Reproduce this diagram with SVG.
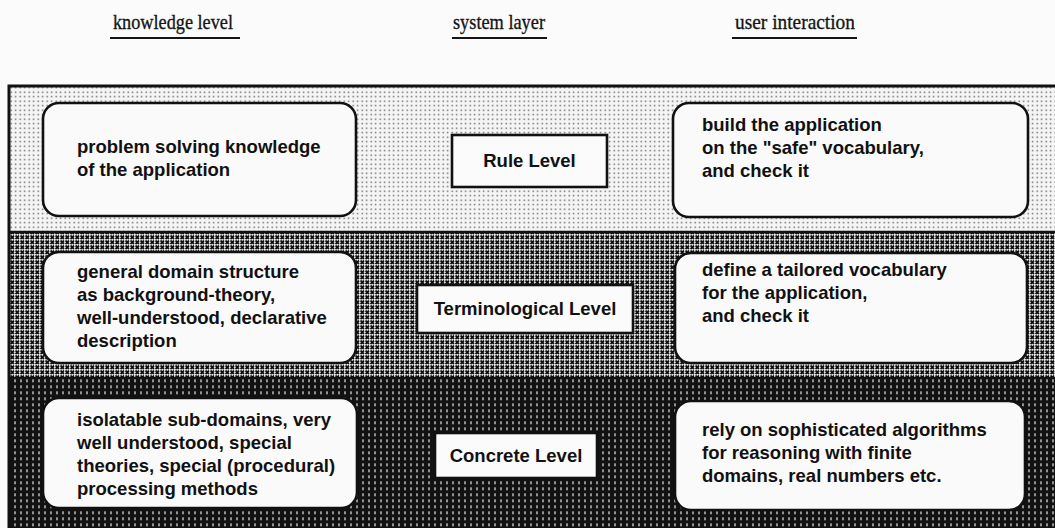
<svg xmlns="http://www.w3.org/2000/svg" width="1055" height="528" viewBox="0 0 1055 528">
  <defs>
    <!-- light dot screen for the rule band -->
    <pattern id="dots" width="4.5" height="4.5" patternUnits="userSpaceOnUse">
      <rect width="4.5" height="4.5" fill="#f5f5f5"/>
      <rect x="1.5" y="1.5" width="1.4" height="1.4" fill="#5a5a5a"/>
    </pattern>
    <!-- cross screen for the terminological band -->
    <pattern id="cross" width="5" height="5" patternUnits="userSpaceOnUse">
      <rect width="5" height="5" fill="#efefef"/>
      <path d="M0.5,0.5 L4,4 M4,0.5 L0.5,4" stroke="#0e0e0e" stroke-width="1.8"/>
    </pattern>
    <!-- dark stripe screen for the concrete band -->
    <pattern id="stripes" width="6" height="6" patternUnits="userSpaceOnUse">
      <rect width="6" height="6" fill="#121212"/>
      <rect x="2.4" y="1.3" width="1.2" height="3" fill="#e6e6e6"/>
    </pattern>
    <style>
      .head { font-family: "Liberation Serif", "Times New Roman", serif; font-size: 22px; fill: #151515; stroke: #151515; stroke-width: 0.35; }
      .rule { stroke: #151515; stroke-width: 2.2; }
      .note { fill: #fafafa; stroke: #111; stroke-width: 2.6; }
      .lvl { fill: #fbfbfb; stroke: #111; stroke-width: 2.6; }
      .txt { font-family: "Liberation Sans", Arial, sans-serif; font-size: 18.5px; font-weight: bold; fill: #111; }
      .mid { text-anchor: middle; }
    </style>
  </defs>

  <rect width="1055" height="528" fill="#fbfbfb"/>

  <!-- column headings -->
  <g id="headings">
    <text class="head" x="113" y="29" textLength="120" lengthAdjust="spacingAndGlyphs">knowledge level</text>
    <line class="rule" x1="110" y1="38" x2="240" y2="38"/>
    <text class="head" x="453" y="29" textLength="92" lengthAdjust="spacingAndGlyphs">system layer</text>
    <line class="rule" x1="452" y1="38" x2="547" y2="38"/>
    <text class="head" x="735" y="29" textLength="120" lengthAdjust="spacingAndGlyphs">user interaction</text>
    <line class="rule" x1="732" y1="38" x2="857" y2="38"/>
  </g>

  <!-- shaded bands -->
  <g id="bands">
    <rect x="9" y="86" width="1060" height="146" fill="url(#dots)"/>
    <rect x="9" y="232" width="1060" height="146" fill="url(#cross)"/>
    <rect x="9" y="378" width="1060" height="160" fill="url(#stripes)"/>
    <line x1="9" y1="232" x2="1060" y2="232" stroke="#111" stroke-width="2.5"/>
    <line x1="9" y1="378" x2="1060" y2="378" stroke="#111" stroke-width="2"/>
    <path d="M9,540 L9,86 L1060,86" fill="none" stroke="#111" stroke-width="3"/>
  </g>

  <!-- connectors: none in this figure -->
  <g id="connectors"/>

  <!-- rule band -->
  <g id="knowledge-rule">
    <rect class="note" x="43" y="103" width="313" height="113" rx="16"/>
    <text class="txt" x="77" y="153">problem solving knowledge</text>
    <text class="txt" x="77" y="176">of the application</text>
  </g>
  <g id="rule-level">
    <rect class="lvl" x="452" y="135" width="155" height="52"/>
    <text class="txt mid" x="529.5" y="167">Rule Level</text>
  </g>
  <g id="user-rule">
    <rect class="note" x="673" y="103" width="355" height="114" rx="16"/>
    <text class="txt" x="702" y="131">build the application</text>
    <text class="txt" x="702" y="154">on the "safe" vocabulary,</text>
    <text class="txt" x="702" y="177">and check it</text>
  </g>

  <!-- terminological band -->
  <g id="knowledge-term">
    <rect class="note" x="43" y="252" width="313" height="111" rx="16"/>
    <text class="txt" x="77" y="278">general domain structure</text>
    <text class="txt" x="77" y="301">as background-theory,</text>
    <text class="txt" x="77" y="324">well-understood, declarative</text>
    <text class="txt" x="77" y="347">description</text>
  </g>
  <g id="terminological-level">
    <rect class="lvl" x="417" y="285" width="216" height="48"/>
    <text class="txt mid" x="525" y="315">Terminological Level</text>
  </g>
  <g id="user-term">
    <rect class="note" x="675" y="253" width="352" height="110" rx="16"/>
    <text class="txt" x="702" y="276">define a tailored vocabulary</text>
    <text class="txt" x="702" y="299">for the application,</text>
    <text class="txt" x="702" y="322">and check it</text>
  </g>

  <!-- concrete band -->
  <g id="knowledge-concrete">
    <rect class="note" x="43" y="398" width="314" height="110" rx="16"/>
    <text class="txt" x="77" y="426">isolatable sub-domains, very</text>
    <text class="txt" x="77" y="449">well understood, special</text>
    <text class="txt" x="77" y="472">theories, special (procedural)</text>
    <text class="txt" x="77" y="495">processing methods</text>
  </g>
  <g id="concrete-level">
    <rect class="lvl" x="435" y="433" width="162" height="45"/>
    <text class="txt mid" x="516" y="462">Concrete Level</text>
  </g>
  <g id="user-concrete">
    <rect class="note" x="675" y="401" width="350" height="109" rx="16"/>
    <text class="txt" x="702" y="436">rely on sophisticated algorithms</text>
    <text class="txt" x="702" y="459">for reasoning with finite</text>
    <text class="txt" x="702" y="482">domains, real numbers etc.</text>
  </g>
</svg>
